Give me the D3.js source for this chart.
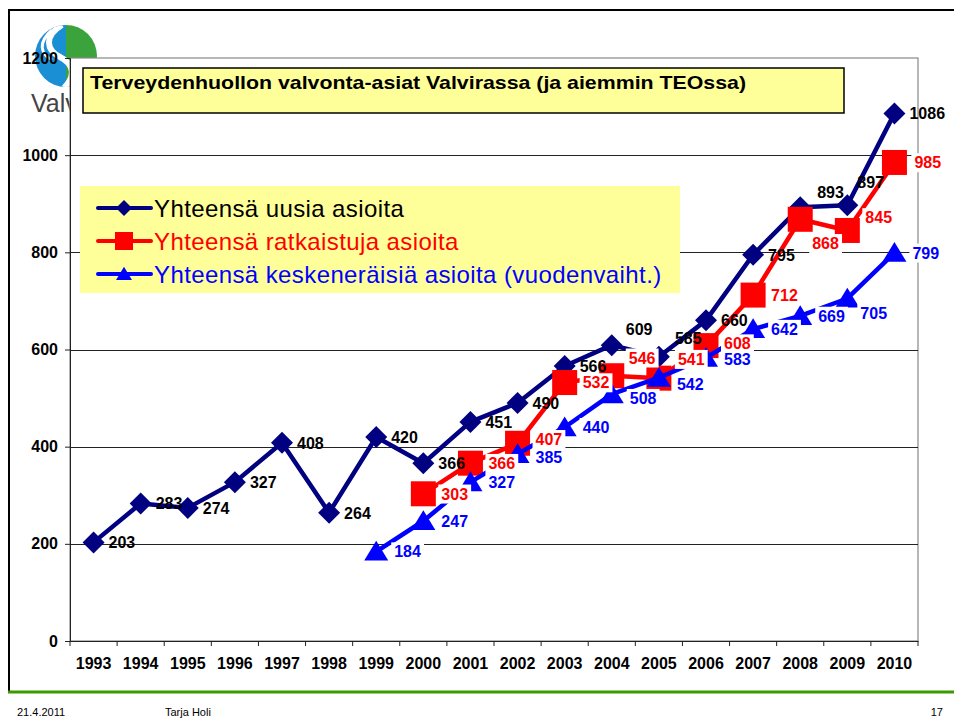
<!DOCTYPE html>
<html>
<head>
<meta charset="utf-8">
<script src="https://cdn.jsdelivr.net/npm/d3@7"></script>
<style>
  html, body { margin: 0; padding: 0; background: #fff; }
  svg { display: block; font-family: "Liberation Sans", Arial, sans-serif; }
</style>
</head>
<body>
<script>
const years = ["1993", "1994", "1995", "1996", "1997", "1998", "1999", "2000", "2001",
               "2002", "2003", "2004", "2005", "2006", "2007", "2008", "2009", "2010"]
const uusia        = [203, 283, 274, 327, 408, 264, 420, 366, 451, 490, 566, 609, 585, 660, 795, 893, 897, 1086]
const ratkaistuja  = [null, null, null, null, null, null, null, 303, 366, 407, 532, 546, 541, 608, 712, 868, 845, 985]
const keskeneraisia = [null, null, null, null, null, null, 184, 247, 327, 385, 440, 508, 542, 583, 642, 669, 705, 799]
const yTicks = [0, 200, 400, 600, 800, 1000, 1200]

const series = [
    {key: "uusia", name: "Yhteensä uusia asioita", values: uusia, color: "#000080", labelColor: "#000", marker: "diamond", box: false, dx: 15},
    {key: "ratkaistuja", name: "Yhteensä ratkaistuja asioita", values: ratkaistuja, color: "#ff0000", labelColor: "#ff0000", marker: "square", box: true, dx: 18},
    {key: "kesken", name: "Yhteensä keskeneräisiä asioita (vuodenvaiht.)", values: keskeneraisia, color: "#0000ff", labelColor: "#0000ff", marker: "triangle", box: true, dx: 18}
]

// hand placed data labels (text left edge / centre offsets from the point)
const labelNudge = {
    "uusia-2004": [14, -16], "uusia-2005": [16, -19], "uusia-2008": [17, -15], "uusia-2009": [10, -23],
    "ratkaistuja-2002": [18, -4], "ratkaistuja-2004": [17, -18], "ratkaistuja-2005": [19, -19],
    "ratkaistuja-2006": [18, -2], "ratkaistuja-2008": [12, 24],
    "ratkaistuja-2009": [18, -13], "ratkaistuja-2010": [20, 0],
    "kesken-2002": [18, 3], "kesken-2004": [18, 4], "kesken-2005": [18, 7], "kesken-2006": [18, 1],
    "kesken-2009": [13, 15]
}

const W = 954, H = 722
const plot = {left: 70, right: 918, top: 58, bottom: 641}

const svg = d3.select("body").append("svg")
    .attr("width", W)
    .attr("height", H)

// slide frame + footer
svg.append("line").attr("x1", 8).attr("x2", W).attr("y1", 10).attr("y2", 10)
    .style("stroke", "#000").style("stroke-width", 2)
svg.append("line").attr("x1", 9).attr("x2", 9).attr("y1", 10).attr("y2", 692)
    .style("stroke", "#000").style("stroke-width", 2)
svg.append("line").attr("x1", 8).attr("x2", W).attr("y1", 692).attr("y2", 692)
    .style("stroke", "#3a9a00").style("stroke-width", 3)
svg.append("text").attr("x", 17).attr("y", 716).style("font-size", "11px").text("21.4.2011")
svg.append("text").attr("x", 165).attr("y", 716).style("font-size", "11px").text("Tarja Holi")
svg.append("text").attr("x", 943).attr("y", 716).style("font-size", "11px")
    .style("text-anchor", "end").text("17")

// Valvira logo (partly hidden under the plot area)
const logo = svg.append("g")
logo.append("clipPath").attr("id", "logoclip")
    .append("circle").attr("cx", 66).attr("cy", 56).attr("r", 31)
logo.append("rect").attr("x", 35).attr("y", 24).attr("width", 31).attr("height", 64)
    .attr("clip-path", "url(#logoclip)").style("fill", "#1a8fd3")
logo.append("rect").attr("x", 66).attr("y", 24).attr("width", 32).attr("height", 64)
    .attr("clip-path", "url(#logoclip)").style("fill", "#3aa33c")
logo.append("path")
    .attr("d", "M62,25 C44,36 46,50 60,57 C74,64 76,76 64,88")
    .attr("clip-path", "url(#logoclip)")
    .style("fill", "none").style("stroke", "#fff").style("stroke-width", 6)
logo.append("path")
    .attr("d", "M52,30 C38,42 40,54 52,60")
    .attr("clip-path", "url(#logoclip)")
    .style("fill", "none").style("stroke", "#fff").style("stroke-width", 3)
logo.append("text").attr("x", 31).attr("y", 112)
    .style("font-size", "25px").style("fill", "#444").text("Valvira")

// plot area
svg.append("rect")
    .attr("x", plot.left).attr("y", plot.top)
    .attr("width", plot.right - plot.left).attr("height", plot.bottom - plot.top)
    .style("fill", "#fff").style("stroke", "#888").style("stroke-width", 1.2)

const x = d3.scaleBand().domain(years).range([plot.left, plot.right])
const cx = d => x(d) + x.bandwidth() / 2
const y = d3.scaleLinear().domain([0, 1200]).range([plot.bottom, plot.top])

// gridlines
svg.append("g").selectAll("line")
    .data(yTicks.filter(t => t > 0 && t < 1200))
    .enter().append("line")
    .attr("x1", plot.left).attr("x2", plot.right)
    .attr("y1", d => Math.round(y(d)) + 0.5).attr("y2", d => Math.round(y(d)) + 0.5)
    .style("stroke", "#222").style("stroke-width", 1)

// y axis
const yAxis = svg.append("g")
    .attr("transform", `translate(${plot.left}, 0)`)
    .call(d3.axisLeft(y).tickValues(yTicks).tickFormat(d3.format("d")).tickSize(5).tickPadding(7))
yAxis.select(".domain").style("stroke", "#222")
yAxis.selectAll(".tick line").style("stroke", "#222")
yAxis.selectAll("text")
    .style("font-family", "'Liberation Sans', Arial, sans-serif")
    .style("font-size", "16px").style("font-weight", "bold").style("fill", "#000")

// x axis: labels at band centres, ticks at band edges
const xAxis = svg.append("g")
    .attr("transform", `translate(0, ${plot.bottom})`)
    .call(d3.axisBottom(x).tickSize(0).tickPadding(17))
xAxis.select(".domain").style("stroke", "#222")
xAxis.selectAll("text")
    .style("font-family", "'Liberation Sans', Arial, sans-serif")
    .style("font-size", "16px").style("font-weight", "bold").style("fill", "#000")
xAxis.selectAll(".edge")
    .data(years.map(d => x(d)).concat([plot.right]))
    .enter().append("line").attr("class", "edge")
    .attr("x1", d => d).attr("x2", d => d).attr("y1", 0).attr("y2", 5)
    .style("stroke", "#222")

// title box
svg.append("rect")
    .attr("x", 83).attr("y", 68).attr("width", 761).attr("height", 45)
    .style("fill", "#ffff99").style("stroke", "#000").style("stroke-width", 1.5)
svg.append("text")
    .attr("x", 90).attr("y", 89)
    .attr("textLength", 656).attr("lengthAdjust", "spacingAndGlyphs")
    .style("font-size", "19px").style("font-weight", "bold")
    .text("Terveydenhuollon valvonta-asiat Valvirassa (ja aiemmin TEOssa)")

function drawMarker(g, type, color, s) {
    if (type === "diamond") {
        g.append("path").attr("d", `M0,${-s}L${s},0L0,${s}L${-s},0Z`).style("fill", color)
    } else if (type === "square") {
        g.append("rect").attr("x", -s).attr("y", -s).attr("width", 2 * s).attr("height", 2 * s).style("fill", color)
    } else {
        g.append("path").attr("d", `M0,${-s * 0.9}L${s},${s * 0.75}L${-s},${s * 0.75}Z`).style("fill", color)
    }
}

// legend
const legend = svg.append("g")
legend.append("rect")
    .attr("x", 80).attr("y", 186).attr("width", 600).attr("height", 107)
    .style("fill", "#ffff99")
series.forEach((s, i) => {
    const ly = 208 + i * 33
    legend.append("line")
        .attr("x1", 98).attr("x2", 151).attr("y1", ly).attr("y2", ly)
        .style("stroke", s.color).style("stroke-width", 4).style("stroke-linecap", "round")
    const m = legend.append("g").attr("transform", `translate(124, ${ly})`)
    drawMarker(m, s.marker, s.color, s.marker === "square" ? 9 : 8)
    legend.append("text")
        .attr("x", 154).attr("y", ly).attr("dy", "0.36em")
        .style("font-size", "24px").style("letter-spacing", "0.4px")
        .style("fill", i === 0 ? "#000" : s.color)
        .text(s.name)
})

// series
const line = d3.line()
    .defined(d => d.v !== null)
    .x(d => cx(d.year))
    .y(d => y(d.v))

series.forEach((s) => {
    const pts = years.map((yr, i) => ({year: yr, v: s.values[i]}))
    svg.append("path")
        .datum(pts)
        .attr("d", line)
        .style("fill", "none")
        .style("stroke", s.color)
        .style("stroke-width", 4.5)
        .style("stroke-linejoin", "round")
    pts.filter(d => d.v !== null).forEach((d) => {
        const m = svg.append("g").attr("transform", `translate(${cx(d.year)}, ${y(d.v)})`)
        const size = s.marker === "diamond" ? 11 : (s.marker === "square" ? 12.5 : 12)
        drawMarker(m, s.marker, s.color, size)
    })
})

// data labels on top
series.forEach((s) => {
    years.forEach((yr, i) => {
        const v = s.values[i]
        if (v === null) return
        const nudge = labelNudge[`${s.key}-${yr}`] || [s.dx, 0]
        const g = svg.append("g")
            .attr("transform", `translate(${cx(yr) + nudge[0]}, ${y(v) + nudge[1]})`)
        const t = g.append("text")
            .attr("dy", "0.36em")
            .style("font-size", "16px").style("font-weight", "bold")
            .style("fill", s.labelColor)
            .text(v)
        if (s.box) {
            const b = t.node().getBBox()
            g.insert("rect", "text")
                .attr("x", b.x - 3).attr("y", b.y - 1)
                .attr("width", b.width + 6).attr("height", b.height + 2)
                .style("fill", "#fff")
        }
    })
})
</script>
</body>
</html>
